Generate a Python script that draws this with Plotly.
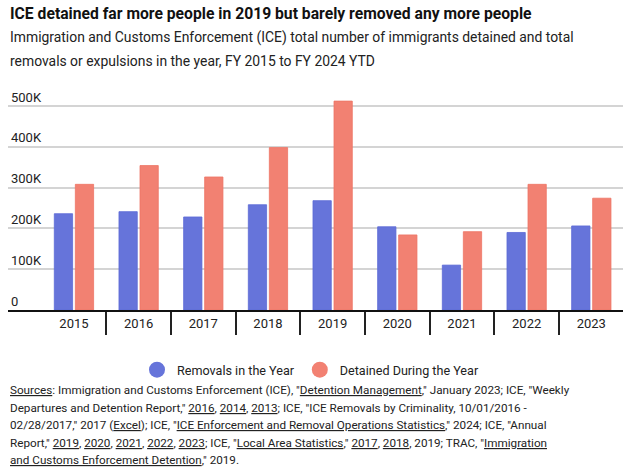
import plotly.graph_objects as go

years = ["2015", "2016", "2017", "2018", "2019", "2020", "2021", "2022", "2023"]
removals = [236000, 241000, 228000, 258000, 268000, 204000, 110000, 190000, 206000]
detained = [308000, 354000, 326000, 398000, 512000, 184000, 192000, 308000, 274000]
y_ticks = [0, 100000, 200000, 300000, 400000, 500000]
y_tick_labels = ["0", "100K", "200K", "300K", "400K", "500K"]

title = "ICE detained far more people in 2019 but barely removed any more people"
subtitle_lines = [
    "Immigration and Customs Enforcement (ICE) total number of immigrants detained and total",
    "removals or expulsions in the year, FY 2015 to FY 2024 YTD",
]
source_lines = [
    '<u>Sources</u>: Immigration and Customs Enforcement (ICE), "<u>Detention Management</u>," January 2023; ICE, "Weekly',
    'Departures and Detention Report," <u>2016</u>, <u>2014</u>, <u>2013</u>; ICE, "ICE Removals by Criminality, 10/01/2016 -',
    '02/28/2017," 2017 (<u>Excel</u>); ICE, "<u>ICE Enforcement and Removal Operations Statistics</u>," 2024; ICE, "Annual',
    'Report," <u>2019</u>, <u>2020</u>, <u>2021</u>, <u>2022</u>, <u>2023</u>; ICE, "<u>Local Area Statistics</u>," <u>2017</u>, <u>2018</u>, 2019; TRAC, "<u>Immigration</u>',
    '<u>and Customs Enforcement Detention</u>," 2019.',
]

BLUE = "#6674DA"
RED = "#F28172"
FONT = "Roboto"

W, H = 628, 470
ML, MR = 8, 5
MT = 84
MB = H - 310
PH = H - MT - MB
PX_PER_UNIT = 40.8 / 100000
YMAX = PH / PX_PER_UNIT
LABEL_RAISE = 9 / PX_PER_UNIT


def py(pix):
    return (H - MB - pix) / PH


def px(pix):
    return (pix - ML) / (W - ML - MR)


fig = go.Figure()
fig.add_trace(go.Bar(x=years, y=removals, name="Removals in the Year",
                     marker=dict(color=BLUE, line=dict(color="#5C6AD6", width=0.8)),
                     showlegend=False))
fig.add_trace(go.Bar(x=years, y=detained, name="Detained During the Year",
                     marker=dict(color=RED, line=dict(color="#EE7565", width=0.8)),
                     showlegend=False))
fig.add_trace(go.Scatter(x=[None], y=[None], mode="markers", name="Removals in the Year",
                         yaxis="y2", marker=dict(color=BLUE, size=17, symbol="circle")))
fig.add_trace(go.Scatter(x=[None], y=[None], mode="markers", name="Detained During the Year",
                         yaxis="y2", marker=dict(color=RED, size=17, symbol="circle")))

annotations = [
    dict(text="<b>" + title + "</b>", x=0, xref="paper", xanchor="left",
         y=py(14), yref="paper", yanchor="middle", showarrow=False,
         font=dict(family=FONT, size=15.7, color="#111111")),
]
for i, line in enumerate(subtitle_lines):
    annotations.append(dict(text=line, x=0, xref="paper", xanchor="left",
                            y=py(38 + 23 * i), yref="paper", yanchor="middle", showarrow=False,
                            font=dict(family=FONT, size=13.9, color="#222222")))
for i, line in enumerate(source_lines):
    annotations.append(dict(text=line, x=0, xref="paper", xanchor="left",
                            y=py(390 + 17.5 * i), yref="paper", yanchor="middle", showarrow=False,
                            font=dict(family=FONT, size=11.7, color="#222222")))

fig.update_layout(
    width=W, height=H,
    margin=dict(l=ML, r=MR, t=MT, b=MB, pad=0),
    paper_bgcolor="white", plot_bgcolor="white",
    barmode="group", bargap=0.35, bargroupgap=0.13,
    font=dict(family=FONT, size=13, color="#222222"),
    showlegend=True,
    legend=dict(orientation="h", x=px(137), xanchor="left",
                y=py(370), yanchor="middle", font=dict(family=FONT, size=12.6, color="#222222"),
                itemsizing="trace", tracegroupgap=0, bgcolor="rgba(0,0,0,0)"),
    annotations=annotations,
    xaxis=dict(type="category", range=[-1.02, 8.49], tickson="boundaries",
               ticks="outside", ticklen=23, tickwidth=2, tickcolor="#222222",
               showline=True, linecolor="#111111", linewidth=2,
               showgrid=False, tickfont=dict(family=FONT, size=13, color="#222222"),
               fixedrange=True),
    yaxis=dict(range=[0, YMAX], tickvals=y_ticks, showticklabels=False,
               showgrid=True, gridcolor="#D4D4D4", gridwidth=1.5,
               zeroline=False, showline=False, ticks="", fixedrange=True),
    yaxis2=dict(overlaying="y", side="left", range=[-LABEL_RAISE, YMAX - LABEL_RAISE],
                tickvals=y_ticks, ticktext=y_tick_labels, ticklabelposition="inside",
                showgrid=False, zeroline=False, showline=False, ticks="", fixedrange=True,
                tickfont=dict(family=FONT, size=13, color="#222222")),
)

fig.write_html("out.html", config={"displayModeBar": False},
               post_script="document.body.style.margin='0';")
